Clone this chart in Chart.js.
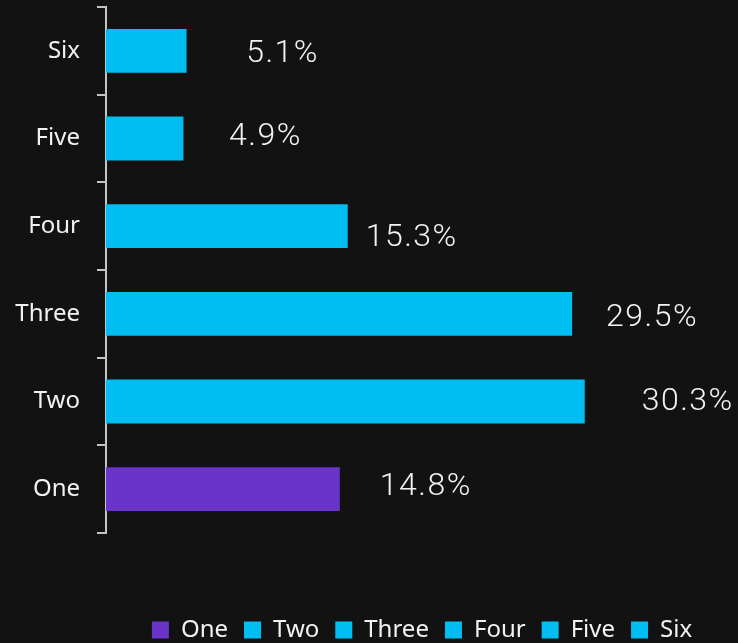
<!DOCTYPE html>
<html>
<head>
<meta charset="utf-8">
<script src="https://cdn.jsdelivr.net/npm/chart.js@4/dist/chart.umd.min.js"></script>
<style>
  html, body { margin: 0; padding: 0; background: #121212; overflow: hidden; }
  #wrap { width: 738px; height: 652px; }
</style>
</head>
<body>
<div id="wrap"><canvas id="c"></canvas></div>
<script>
const categories = ['One', 'Two', 'Three', 'Four', 'Five', 'Six'];
const shares = [14.8, 30.3, 29.5, 15.3, 4.9, 5.1];
const barColors = ['#6A34C8', '#00BEF2', '#00BEF2', '#00BEF2', '#00BEF2', '#00BEF2'];
// small nudges of the value labels (the source places them unevenly)
const labelNudgeX = [2, 19, -4, -20, -2, 12];
const labelNudgeY = [-2, 0, 4, 12, -2, 3];

const textColor = '#f2f2f2';
const axisColor = '#c4c4c4';

const valueLabels = {
  id: 'valueLabels',
  afterDatasetsDraw(chart) {
    const { ctx } = chart;
    const meta = chart.getDatasetMeta(0);
    ctx.save();
    ctx.font = '300 32px Roboto';
    ctx.letterSpacing = '1.5px';
    ctx.fillStyle = textColor;
    ctx.textAlign = 'center';
    ctx.textBaseline = 'middle';
    meta.data.forEach((bar, i) => {
      ctx.fillText(shares[i].toFixed(1) + '%', bar.x + 84 + labelNudgeX[i], bar.y + labelNudgeY[i]);
    });
    ctx.restore();
  },
};

new Chart(document.getElementById('c'), {
  type: 'bar',
  data: {
    labels: categories,
    datasets: [{ data: shares, backgroundColor: barColors, barPercentage: 0.5, categoryPercentage: 1 }],
  },
  plugins: [valueLabels],
  options: {
    indexAxis: 'y',
    responsive: true, maintainAspectRatio: false, animation: false,
    layout: { padding: { top: 7, left: 0, right: 0, bottom: 0 } },
    plugins: {
      tooltip: { enabled: false },
      legend: {
        position: 'bottom', fullSize: false,
        labels: {
          boxWidth: 17, boxHeight: 17, padding: 16, color: textColor,
          font: { family: 'Noto Sans', size: 24 },
          generateLabels: () => categories.map((c, i) => ({
            text: c, fillStyle: barColors[i], strokeStyle: barColors[i], lineWidth: 0, fontColor: textColor, index: i,
          })),
        },
      },
    },
    scales: {
      x: {
        min: 0, max: 40,
        grid: { display: false }, border: { display: false },
        ticks: { display: false },
        afterFit: (s) => { s.height = 69; },
      },
      y: {
        reverse: true,
        grid: { drawOnChartArea: false, tickLength: 9, color: axisColor, lineWidth: 2 },
        border: { color: axisColor, width: 2 },
        ticks: { color: textColor, padding: 17, font: { family: 'Noto Sans', size: 24 } },
        afterFit: (s) => { s.width = 106; s.paddingTop = 0; s.paddingBottom = 0; },
      },
    },
  },
});
</script>
</body>
</html>
